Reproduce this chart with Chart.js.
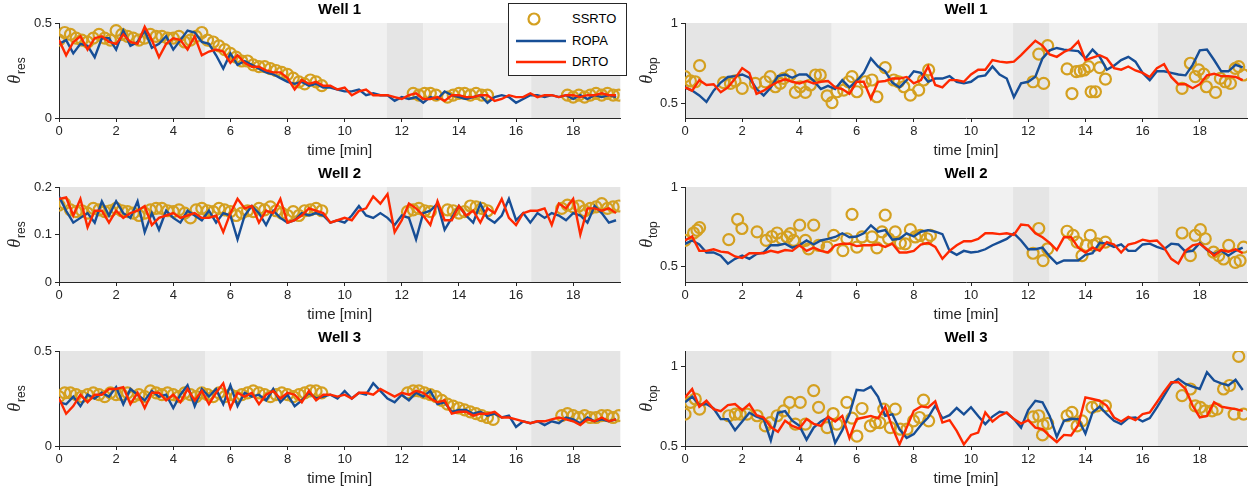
<!DOCTYPE html>
<html>
<head>
<meta charset="utf-8">
<script src="https://cdn.jsdelivr.net/npm/chart.js@4.4.1/dist/chart.umd.min.js"></script>
<style>
  body { margin: 0; background: #fff; width: 1256px; height: 494px; position: relative; overflow: hidden; font-family: "Liberation Sans", Arial, sans-serif; }
  .panel { position: absolute; width: 628px; height: 164px; }
  #legend { position: absolute; left: 508px; top: 3px; width: 117px; height: 71px; border: 1px solid #262626; background: #fff; }
  #legend .row { position: absolute; left: 0; height: 20px; width: 117px; }
  #legend svg { position: absolute; left: 5px; top: 0; }
  #legend span { position: absolute; left: 63px; top: 2px; font-size: 13px; color: #000; }
</style>
</head>
<body>
<div class="panel" style="left:0;top:0"><canvas id="c1" width="628" height="164"></canvas></div>
<div class="panel" style="left:628px;top:0"><canvas id="c2" width="628" height="164"></canvas></div>
<div class="panel" style="left:0;top:164px"><canvas id="c3" width="628" height="164"></canvas></div>
<div class="panel" style="left:628px;top:164px"><canvas id="c4" width="628" height="164"></canvas></div>
<div class="panel" style="left:0;top:328px"><canvas id="c5" width="628" height="164"></canvas></div>
<div class="panel" style="left:628px;top:328px"><canvas id="c6" width="628" height="164"></canvas></div>

<div id="legend">
  <div class="row" style="top:5px"><svg width="56" height="20"><circle cx="20" cy="10" r="5.5" fill="none" stroke="#D4A020" stroke-width="2.2"/></svg><span>SSRTO</span></div>
  <div class="row" style="top:27px"><svg width="56" height="20"><line x1="2" y1="10" x2="52" y2="10" stroke="#174E96" stroke-width="2.5"/></svg><span>ROPA</span></div>
  <div class="row" style="top:48px"><svg width="56" height="20"><line x1="2" y1="10" x2="52" y2="10" stroke="#FF2800" stroke-width="2.5"/></svg><span>DRTO</span></div>
</div>

<script>
// tiempo de la simulacion [min]
const time = [0,0.25,0.5,0.75,1,1.25,1.5,1.75,2,2.25,2.5,2.75,3,3.25,3.5,3.75,4,4.25,4.5,4.75,
  5,5.25,5.5,5.75,6,6.25,6.5,6.75,7,7.25,7.5,7.75,8,8.25,8.5,8.75,9,9.25,9.5,9.75,
  10,10.25,10.5,10.75,11,11.25,11.5,11.75,12,12.25,12.5,12.75,13,13.25,13.5,13.75,14,14.25,14.5,14.75,
  15,15.25,15.5,15.75,16,16.25,16.5,16.75,17,17.25,17.5,17.75,18,18.25,18.5,18.75,19,19.25,19.5];

const xTicks = [0, 2, 4, 6, 8, 10, 12, 14, 16, 18];
const xRange = [0, 19.65];

// zonas sombreadas
const shadeEdges = [0, 5.13, 11.47, 12.75, 16.53, 19.65];
const shadeColors = ["#e5e5e5", "#f1f1f1", "#e5e5e5", "#f1f1f1", "#e5e5e5"];

// Well 1
const ropaRes1 = [0.39,0.41,0.34,0.39, 0.38,0.32,0.42,0.42, 0.36,0.46,0.38,0.40, 0.46,0.37,0.39,0.43, 0.36,0.41,0.46,0.45,
  0.40,0.39,0.33,0.26, 0.34,0.28,0.30,0.28, 0.26,0.24,0.23,0.21, 0.19,0.18,0.19,0.17, 0.18,0.16,0.16,0.15,
  0.14,0.14,0.15,0.12, 0.13,0.12,0.12,0.09, 0.11,0.10,0.11,0.08, 0.11,0.10,0.14,0.12, 0.11,0.10,0.11,0.12,
  0.08,0.11,0.12,0.11, 0.08,0.10,0.12,0.12, 0.11,0.12,0.11,0.12, 0.10,0.12,0.10,0.12, 0.11,0.12,0.11];
const drtoRes1 = [0.41,0.33,0.40,0.43, 0.36,0.42,0.43,0.40, 0.39,0.44,0.40,0.39, 0.48,0.41,0.32,0.39, 0.42,0.41,0.36,0.43,
  0.33,0.35,0.36,0.35, 0.29,0.33,0.29,0.27, 0.27,0.25,0.24,0.24, 0.21,0.15,0.20,0.18, 0.19,0.17,0.17,0.15,
  0.16,0.12,0.14,0.15, 0.12,0.12,0.12,0.11, 0.10,0.12,0.13,0.10, 0.10,0.11,0.09,0.12, 0.12,0.11,0.11,0.12,
  0.12,0.09,0.10,0.12, 0.11,0.11,0.13,0.11, 0.12,0.12,0.11,0.12, 0.12,0.11,0.12,0.12, 0.13,0.12,0.12];
const ssrtoRes1 = [[0,0.41],[0.2,0.45],[0.4,0.44],[0.6,0.42],[0.8,0.41],[1,0.40],[1.2,0.42],[1.4,0.44],[1.6,0.42],[1.8,0.41],
  [2,0.46],[2.2,0.44],[2.4,0.43],[2.6,0.42],[2.8,0.41],[3,0.42],[3.2,0.44],[3.4,0.43],[3.6,0.43],[3.8,0.42],
  [4,0.42],[4.2,0.43],[4.4,0.40],[4.6,0.41],[4.8,0.43],[5,0.45],[5.2,0.41],[5.4,0.40],[5.6,0.38],[5.8,0.36],
  [6,0.34],[6.2,0.32],[6.4,0.30],[6.6,0.30],[6.8,0.28],[7,0.27],[7.2,0.27],[7.4,0.26],[7.6,0.25],[7.8,0.24],
  [8,0.23],[8.2,0.21],[8.4,0.19],[8.6,0.18],[8.8,0.20],[9,0.19],[9.2,0.17],
  [12.4,0.13],[12.6,0.12],[12.8,0.13],[13,0.13],[13.2,0.12],[13.6,0.11],[13.8,0.12],[14,0.13],[14.2,0.13],
  [14.4,0.12],[14.6,0.13],[14.8,0.12],[15,0.12],
  [17.8,0.12],[18,0.11],[18.2,0.12],[18.4,0.11],[18.6,0.12],[18.8,0.13],[19,0.12],[19.2,0.13],[19.4,0.12],[19.6,0.12]];

const ropaTop1 = [0.60,0.58,0.55,0.51, 0.58,0.63,0.665,0.67, 0.68,0.66,0.59,0.55, 0.60,0.67,0.68,0.66, 0.68,0.68,0.64,0.59,
  0.61,0.59,0.645,0.60, 0.64,0.69,0.78,0.73, 0.70,0.63,0.60,0.645, 0.70,0.69,0.635,0.655, 0.655,0.67,0.635,0.625,
  0.635,0.667,0.675,0.73, 0.68,0.655,0.54,0.625, 0.635,0.667,0.78,0.83, 0.845,0.835,0.83,0.825, 0.78,0.835,0.79,0.71,
  0.735,0.77,0.79,0.76, 0.69,0.645,0.70,0.70, 0.69,0.68,0.675,0.74, 0.83,0.835,0.77,0.70, 0.70,0.74,0.725];
const drtoTop1 = [0.60,0.58,0.645,0.615, 0.62,0.57,0.60,0.655, 0.72,0.69,0.56,0.58, 0.61,0.635,0.65,0.635, 0.625,0.64,0.625,0.635,
  0.64,0.60,0.59,0.56, 0.635,0.635,0.53,0.635, 0.64,0.655,0.655,0.665, 0.625,0.645,0.73,0.615, 0.60,0.645,0.645,0.635,
  0.68,0.71,0.71,0.77, 0.76,0.755,0.76,0.80, 0.845,0.89,0.86,0.805, 0.79,0.82,0.84,0.885, 0.77,0.785,0.80,0.78,
  0.72,0.71,0.73,0.705, 0.69,0.665,0.72,0.745, 0.665,0.62,0.62,0.595, 0.62,0.675,0.685,0.67, 0.67,0.665,0.645];
const ssrtoTop1 = [[0,0.667],[0.19,0.64],[0.36,0.635],[0.51,0.735],[1.35,0.63],[1.59,0.625],[1.75,0.64],[2,0.594],
  [2.46,0.625],[2.81,0.635],[2.98,0.667],[3.16,0.604],[3.33,0.625],[3.45,0.656],[3.68,0.677],[3.86,0.569],
  [4.03,0.604],[4.21,0.569],[4.38,0.615],[4.56,0.677],[4.73,0.677],[4.97,0.548],[5.14,0.506],[5.31,0.573],
  [5.55,0.583],[5.72,0.635],[5.84,0.667],[6.01,0.573],[6.3,0.635],[6.54,0.646],[6.71,0.542],[7,0.723],
  [7.3,0.646],[7.47,0.635],[7.65,0.604],[7.88,0.552],[8.17,0.583],[8.34,0.646],[8.52,0.709],
  [12.17,0.635],[12.37,0.807],[12.54,0.625],[12.68,0.859],[13.36,0.715],[13.53,0.562],[13.68,0.698],
  [13.82,0.702],[13.96,0.708],[14.11,0.729],[14.2,0.573],[14.35,0.573],[14.5,0.723],[14.7,0.652],
  [17.38,0.594],[17.67,0.75],[17.84,0.667],[17.96,0.709],[18.14,0.682],[18.23,0.604],[18.55,0.569],
  [18.72,0.656],[18.89,0.635],[19.07,0.625],[19.24,0.718],[19.36,0.729],[19.53,0.677]];

// Well 2
const ropaRes2 = [0.18,0.15,0.125,0.135, 0.145,0.125,0.17,0.14, 0.17,0.145,0.135,0.17, 0.105,0.145,0.11,0.15, 0.135,0.125,0.15,0.14,
  0.13,0.15,0.125,0.145, 0.14,0.09,0.14,0.16, 0.145,0.12,0.15,0.135, 0.125,0.13,0.145,0.14, 0.145,0.14,0.125,0.13,
  0.125,0.14,0.16,0.14, 0.135,0.145,0.135,0.12, 0.14,0.135,0.09,0.145, 0.15,0.165,0.11,0.135, 0.16,0.14,0.125,0.165,
  0.135,0.125,0.14,0.175, 0.13,0.145,0.125,0.145, 0.135,0.145,0.14,0.13, 0.145,0.14,0.125,0.16, 0.145,0.125,0.13];
const drtoRes2 = [0.175,0.178,0.14,0.175, 0.115,0.15,0.15,0.125, 0.15,0.135,0.145,0.15, 0.16,0.12,0.135,0.14, 0.145,0.135,0.14,0.145,
  0.135,0.135,0.14,0.105, 0.145,0.175,0.155,0.16, 0.125,0.15,0.145,0.175, 0.125,0.13,0.14,0.155, 0.15,0.145,0.125,0.13,
  0.135,0.13,0.15,0.155, 0.18,0.165,0.185,0.105, 0.13,0.165,0.155,0.14, 0.12,0.17,0.13,0.13, 0.16,0.14,0.15,0.125,
  0.155,0.145,0.175,0.135, 0.12,0.145,0.15,0.15, 0.155,0.12,0.165,0.155, 0.175,0.10,0.155,0.155, 0.15,0.155,0.145];
const ssrtoRes2 = [[0,0.162],[0.2,0.165],[0.4,0.152],[0.6,0.148],[0.8,0.15],[1,0.145],[1.2,0.155],[1.4,0.152],[1.6,0.148],[1.8,0.15],
  [2,0.155],[2.2,0.15],[2.4,0.148],[2.6,0.145],[2.8,0.14],[3,0.145],[3.2,0.152],[3.4,0.155],[3.6,0.155],[3.8,0.15],
  [4,0.148],[4.2,0.152],[4.4,0.145],[4.6,0.135],[4.8,0.152],[5,0.155],[5.2,0.15],[5.4,0.148],[5.6,0.155],[5.8,0.152],
  [6,0.148],[6.2,0.14],[6.4,0.145],[6.6,0.15],[6.8,0.148],[7,0.155],[7.2,0.152],[7.4,0.158],[7.6,0.15],[7.8,0.145],
  [8,0.14],[8.2,0.148],[8.4,0.14],[8.6,0.15],[8.8,0.152],[9,0.155],[9.2,0.15],
  [12.2,0.148],[12.4,0.152],[12.6,0.155],[12.8,0.15],[13,0.148],[13.6,0.152],[13.8,0.15],[14,0.145],[14.2,0.148],
  [14.4,0.16],[14.6,0.158],[14.8,0.155],[15,0.15],
  [17.6,0.155],[17.8,0.162],[18,0.158],[18.2,0.16],[18.4,0.15],[18.6,0.155],[18.8,0.158],[19,0.165],[19.2,0.155],[19.4,0.158],[19.6,0.16]];

const ropaTop2 = [0.644,0.665,0.64,0.59, 0.59,0.57,0.52,0.55, 0.57,0.55,0.58,0.59, 0.635,0.635,0.645,0.62, 0.635,0.665,0.64,0.665,
  0.675,0.687,0.71,0.685, 0.69,0.71,0.76,0.72, 0.73,0.67,0.676,0.71, 0.69,0.72,0.73,0.72, 0.705,0.60,0.575,0.60,
  0.59,0.595,0.61,0.635, 0.655,0.675,0.71,0.665, 0.61,0.61,0.62,0.565, 0.52,0.54,0.54,0.54, 0.575,0.585,0.65,0.645,
  0.625,0.64,0.60,0.60, 0.64,0.645,0.625,0.61, 0.645,0.64,0.595,0.60, 0.65,0.605,0.58,0.60, 0.57,0.60,0.62];
const drtoTop2 = [0.665,0.69,0.60,0.60, 0.61,0.595,0.59,0.565, 0.555,0.585,0.585,0.585, 0.60,0.59,0.605,0.60, 0.635,0.60,0.62,0.60,
  0.59,0.635,0.645,0.645, 0.63,0.635,0.635,0.64, 0.625,0.645,0.59,0.59, 0.60,0.64,0.65,0.625, 0.55,0.60,0.635,0.66,
  0.66,0.675,0.71,0.71, 0.705,0.71,0.70,0.765, 0.76,0.71,0.685,0.65, 0.605,0.685,0.685,0.62, 0.59,0.62,0.60,0.655,
  0.64,0.59,0.64,0.65, 0.67,0.66,0.665,0.62, 0.55,0.52,0.60,0.635, 0.645,0.61,0.57,0.605, 0.595,0.61,0.585];
const ssrtoTop2 = [[0,0.666],[0.3,0.712],[0.42,0.729],[0.51,0.746],[1.53,0.67],[1.84,0.797],[1.99,0.74],[2.52,0.719],
  [2.84,0.666],[3.04,0.69],[3.22,0.712],[3.39,0.676],[3.57,0.687],[3.68,0.708],[3.8,0.666],[4.01,0.761],
  [4.21,0.666],[4.32,0.613],[4.5,0.761],[4.67,0.634],[4.97,0.623],[5.2,0.697],[5.52,0.602],[5.66,0.676],
  [5.84,0.829],[6.01,0.623],[6.19,0.687],[6.54,0.687],[6.71,0.619],[6.89,0.719],[7,0.824],[7.12,0.676],
  [7.35,0.719],[7.53,0.649],[7.7,0.644],[7.88,0.733],[8.05,0.687],[8.23,0.697],[8.46,0.676],[8.58,0.697],
  [12.17,0.585],[12.37,0.74],[12.52,0.539],[12.68,0.613],[13.36,0.723],[13.57,0.697],[13.71,0.655],[13.88,0.57],
  [14.03,0.634],[14.17,0.697],[14.29,0.634],[14.41,0.644],[14.7,0.655],
  [17.38,0.712],[17.67,0.57],[17.84,0.697],[18.02,0.733],[18.19,0.676],[18.48,0.592],[18.66,0.57],[18.83,0.549],
  [19.01,0.634],[19.24,0.528],[19.41,0.539],[19.53,0.623]];

// Well 3
const ropaRes3 = [0.23,0.22,0.26,0.21, 0.27,0.25,0.28,0.26, 0.31,0.22,0.30,0.27, 0.24,0.29,0.26,0.27, 0.20,0.27,0.32,0.21,
  0.30,0.26,0.30,0.22, 0.32,0.21,0.28,0.26, 0.27,0.24,0.30,0.23, 0.27,0.21,0.24,0.28, 0.25,0.26,0.27,0.25,
  0.29,0.25,0.28,0.27, 0.33,0.29,0.25,0.23, 0.27,0.24,0.28,0.26, 0.29,0.22,0.23,0.18, 0.19,0.19,0.17,0.18,
  0.16,0.17,0.15,0.16, 0.10,0.13,0.12,0.13, 0.11,0.13,0.12,0.15, 0.14,0.12,0.15,0.13, 0.14,0.13,0.14];
const drtoRes3 = [0.25,0.17,0.21,0.27, 0.23,0.27,0.27,0.30, 0.30,0.31,0.22,0.28, 0.20,0.28,0.28,0.24, 0.27,0.23,0.30,0.24,
  0.29,0.22,0.28,0.33, 0.20,0.28,0.26,0.28, 0.22,0.27,0.29,0.25, 0.28,0.27,0.23,0.29, 0.24,0.27,0.27,0.26,
  0.27,0.25,0.28,0.28, 0.27,0.30,0.28,0.26, 0.28,0.27,0.29,0.28, 0.25,0.23,0.24,0.17, 0.18,0.18,0.16,0.17,
  0.17,0.18,0.15,0.15, 0.14,0.13,0.12,0.13, 0.13,0.14,0.15,0.14, 0.13,0.11,0.14,0.13, 0.15,0.13,0.14];
const ssrtoRes3 = [[0,0.26],[0.2,0.28],[0.4,0.28],[0.6,0.27],[0.8,0.26],[1,0.27],[1.2,0.28],[1.4,0.27],[1.6,0.26],[1.8,0.28],
  [2,0.27],[2.2,0.27],[2.4,0.28],[2.6,0.26],[2.8,0.27],[3,0.26],[3.2,0.29],[3.4,0.28],[3.6,0.27],[3.8,0.28],
  [4,0.27],[4.2,0.26],[4.4,0.28],[4.6,0.27],[4.8,0.26],[5,0.28],[5.2,0.27],[5.4,0.26],[5.6,0.28],[5.8,0.26],
  [6,0.27],[6.2,0.26],[6.4,0.27],[6.6,0.28],[6.8,0.29],[7,0.28],[7.2,0.27],[7.4,0.26],[7.6,0.27],[7.8,0.28],
  [8,0.27],[8.2,0.26],[8.4,0.27],[8.6,0.28],[8.8,0.29],[9,0.29],[9.2,0.28],
  [12.2,0.28],[12.4,0.29],[12.6,0.29],[12.8,0.28],[13,0.27],[13.2,0.26],[13.4,0.24],[13.6,0.22],[13.8,0.21],
  [14,0.20],[14.2,0.19],[14.4,0.18],[14.6,0.17],[14.8,0.16],[15,0.15],[15.2,0.14],
  [17.6,0.16],[17.8,0.17],[18,0.16],[18.2,0.15],[18.4,0.16],[18.6,0.15],[18.8,0.15],[19,0.16],[19.2,0.16],[19.4,0.15],[19.6,0.16]];

const ropaTop3 = [0.776,0.812,0.76,0.765, 0.737,0.67,0.67,0.60, 0.655,0.71,0.685,0.67, 0.535,0.71,0.72,0.66, 0.627,0.54,0.616,0.655,
  0.68,0.52,0.60,0.70, 0.855,0.85,0.875,0.81, 0.69,0.70,0.605,0.55, 0.575,0.633,0.68,0.755, 0.675,0.695,0.74,0.70,
  0.745,0.69,0.638,0.686, 0.716,0.708,0.67,0.616, 0.727,0.786,0.776,0.69, 0.557,0.659,0.672,0.67, 0.578,0.712,0.748,0.701,
  0.659,0.638,0.676,0.68, 0.655,0.676,0.744,0.818, 0.892,0.924,0.892,0.875, 0.86,0.966,0.913,0.896, 0.882,0.918,0.854];
const drtoTop3 = [0.807,0.86,0.748,0.786, 0.733,0.72,0.758,0.765, 0.727,0.765,0.695,0.68, 0.62,0.59,0.66,0.627, 0.61,0.67,0.64,0.627,
  0.685,0.655,0.69,0.55, 0.67,0.68,0.69,0.675, 0.748,0.616,0.51,0.616, 0.722,0.75,0.744,0.782, 0.648,0.663,0.595,0.51,
  0.57,0.585,0.712,0.655, 0.69,0.712,0.67,0.642, 0.663,0.616,0.606,0.563, 0.525,0.57,0.567,0.633, 0.807,0.797,0.786,0.754,
  0.68,0.655,0.684,0.663, 0.701,0.712,0.776,0.843, 0.903,0.903,0.86,0.754, 0.68,0.69,0.776,0.748, 0.74,0.733,0.722];
const ssrtoTop3 = [[0,0.701],[0.19,0.776],[0.36,0.797],[0.51,0.733],[1.53,0.691],[1.76,0.701],[1.93,0.701],[2.17,0.701],
  [2.52,0.691],[2.81,0.627],[2.98,0.648],[3.22,0.691],[3.45,0.722],[3.66,0.776],[3.86,0.638],[4.03,0.776],
  [4.21,0.638],[4.5,0.85],[4.67,0.744],[4.97,0.616],[5.18,0.705],[5.31,0.638],[5.66,0.776],[5.84,0.676],
  [6.01,0.563],[6.19,0.737],[6.48,0.627],[6.66,0.648],[6.81,0.648],[6.95,0.733],[7.18,0.616],[7.35,0.733],
  [7.53,0.606],[7.76,0.606],[7.99,0.659],[8.2,0.68],[8.34,0.79],[8.52,0.659],
  [12.17,0.684],[12.37,0.691],[12.5,0.57],[12.52,0.633],[12.68,0.642],[13.36,0.691],[13.53,0.712],[13.71,0.627],
  [13.88,0.659],[14.23,0.744],[14.41,0.754],[14.7,0.754],
  [17.38,0.818],[17.67,0.86],[17.84,0.754],[18.02,0.744],[18.19,0.722],[18.43,0.722],[18.6,0.733],[18.83,0.86],
  [19.04,0.882],[19.2,0.701],[19.36,1.066],[19.53,0.701]];

const resTicks1 = [0, 0.5];
const resTicks2 = [0, 0.1, 0.2];
const resTicks3 = [0, 0.5];
const topTicks = [0.5, 1];

const colorSSRTO = "#D4A020";
const colorROPA = "#174E96";
const colorDRTO = "#FF2800";
const axisColor = "#262626";
const fontFamily = '"Liberation Sans", Arial, sans-serif';

// fondo sombreado por tramos
const shadePlugin = {
    id: "shade",
    beforeDraw(chart) {
        const ctx = chart.ctx;
        const a = chart.chartArea;
        const xs = chart.scales.x;
        ctx.save();
        for (let i = 0; i < shadeColors.length; i++) {
            const x0 = xs.getPixelForValue(shadeEdges[i]);
            const x1 = xs.getPixelForValue(shadeEdges[i + 1]);
            ctx.fillStyle = shadeColors[i];
            ctx.fillRect(x0, a.top, x1 - x0, a.bottom - a.top);
        }
        ctx.restore();
    }
};

// etiqueta del eje y con subindice
const yTitlePlugin = {
    id: "yTitle",
    afterDraw(chart, args, opts) {
        const ctx = chart.ctx;
        const a = chart.chartArea;
        const fTheta = 'italic 18px "Liberation Serif", serif';
        const fSub = "12px " + fontFamily;
        ctx.save();
        ctx.translate(opts.x, (a.top + a.bottom) / 2);
        ctx.rotate(-Math.PI / 2);
        ctx.fillStyle = axisColor;
        ctx.textBaseline = "middle";
        ctx.font = fTheta;
        const w1 = ctx.measureText("\u03B8").width;
        ctx.font = fSub;
        const w2 = ctx.measureText(opts.sub).width;
        const x0 = -(w1 + w2 + 1) / 2;
        ctx.font = fTheta;
        ctx.fillText("\u03B8", x0, 0);
        ctx.font = fSub;
        ctx.fillText(opts.sub, x0 + w1 + 1, 7);
        ctx.restore();
    }
};

function toPoints(vals) {
    return vals.map((v, i) => ({ x: time[i], y: v }));
}

function crearPanel(id, titulo, sub, yRange, yTicks, ssrto, ropa, drto, derecha) {
    const ctx = document.getElementById(id).getContext("2d");
    new Chart(ctx, {
        type: "line",
        data: {
            datasets: [
                { label: "DRTO", data: toPoints(drto), borderColor: colorDRTO, borderWidth: 2.4, pointRadius: 0, order: 0 },
                { label: "ROPA", data: toPoints(ropa), borderColor: colorROPA, borderWidth: 2.4, pointRadius: 0, order: 1 },
                {
                    label: "SSRTO",
                    data: ssrto.map(p => ({ x: p[0], y: p[1] })),
                    showLine: false,
                    pointStyle: "circle",
                    pointRadius: 5.5,
                    pointBorderWidth: 2.2,
                    pointBorderColor: colorSSRTO,
                    pointBackgroundColor: "rgba(0,0,0,0)",
                    order: 2
                }
            ]
        },
        options: {
            responsive: false,
            animation: false,
            events: [],
            layout: { padding: { left: 0, right: derecha ? 9 : 7, top: 0, bottom: 0 } },
            plugins: {
                legend: { display: false },
                tooltip: { enabled: false },
                title: {
                    display: true,
                    text: titulo,
                    fullSize: false,
                    color: "#000",
                    font: { family: fontFamily, size: 15, weight: "bold" },
                    padding: { top: 1, bottom: 4 }
                },
                yTitle: { x: derecha ? 19 : 15, sub: sub }
            },
            scales: {
                x: {
                    type: "linear",
                    min: xRange[0],
                    max: xRange[1],
                    afterBuildTicks: s => { s.ticks = xTicks.map(v => ({ value: v })); },
                    afterFit: s => { s.height = 46; },
                    ticks: { color: axisColor, font: { family: fontFamily, size: 13 }, maxRotation: 0, autoSkip: false, padding: 2 },
                    grid: { drawOnChartArea: false, drawTicks: true, tickLength: 4, color: axisColor },
                    border: { display: true, color: axisColor, width: 1 },
                    title: {
                        display: true,
                        text: "time [min]",
                        color: axisColor,
                        font: { family: fontFamily, size: 15 },
                        padding: { top: 0, bottom: 4 }
                    }
                },
                y: {
                    min: yRange[0],
                    max: yRange[1],
                    afterBuildTicks: s => { s.ticks = yTicks.map(v => ({ value: v })); },
                    afterFit: s => { s.width = derecha ? 57 : 59; },
                    ticks: { color: axisColor, font: { family: fontFamily, size: 13 }, padding: 3, callback: v => String(v) },
                    grid: { drawOnChartArea: false, drawTicks: true, tickLength: 4, color: axisColor },
                    border: { display: true, color: axisColor, width: 1 }
                }
            }
        },
        plugins: [shadePlugin, yTitlePlugin]
    });
}

crearPanel("c1", "Well 1", "res", [0, 0.5], resTicks1, ssrtoRes1, ropaRes1, drtoRes1, false);
crearPanel("c2", "Well 1", "top", [0.41, 1], topTicks, ssrtoTop1, ropaTop1, drtoTop1, true);
crearPanel("c3", "Well 2", "res", [0, 0.2], resTicks2, ssrtoRes2, ropaRes2, drtoRes2, false);
crearPanel("c4", "Well 2", "top", [0.405, 1], topTicks, ssrtoTop2, ropaTop2, drtoTop2, true);
crearPanel("c5", "Well 3", "res", [0, 0.5], resTicks3, ssrtoRes3, ropaRes3, drtoRes3, false);
crearPanel("c6", "Well 3", "top", [0.5, 1.1], topTicks, ssrtoTop3, ropaTop3, drtoTop3, true);
</script>
</body>
</html>
